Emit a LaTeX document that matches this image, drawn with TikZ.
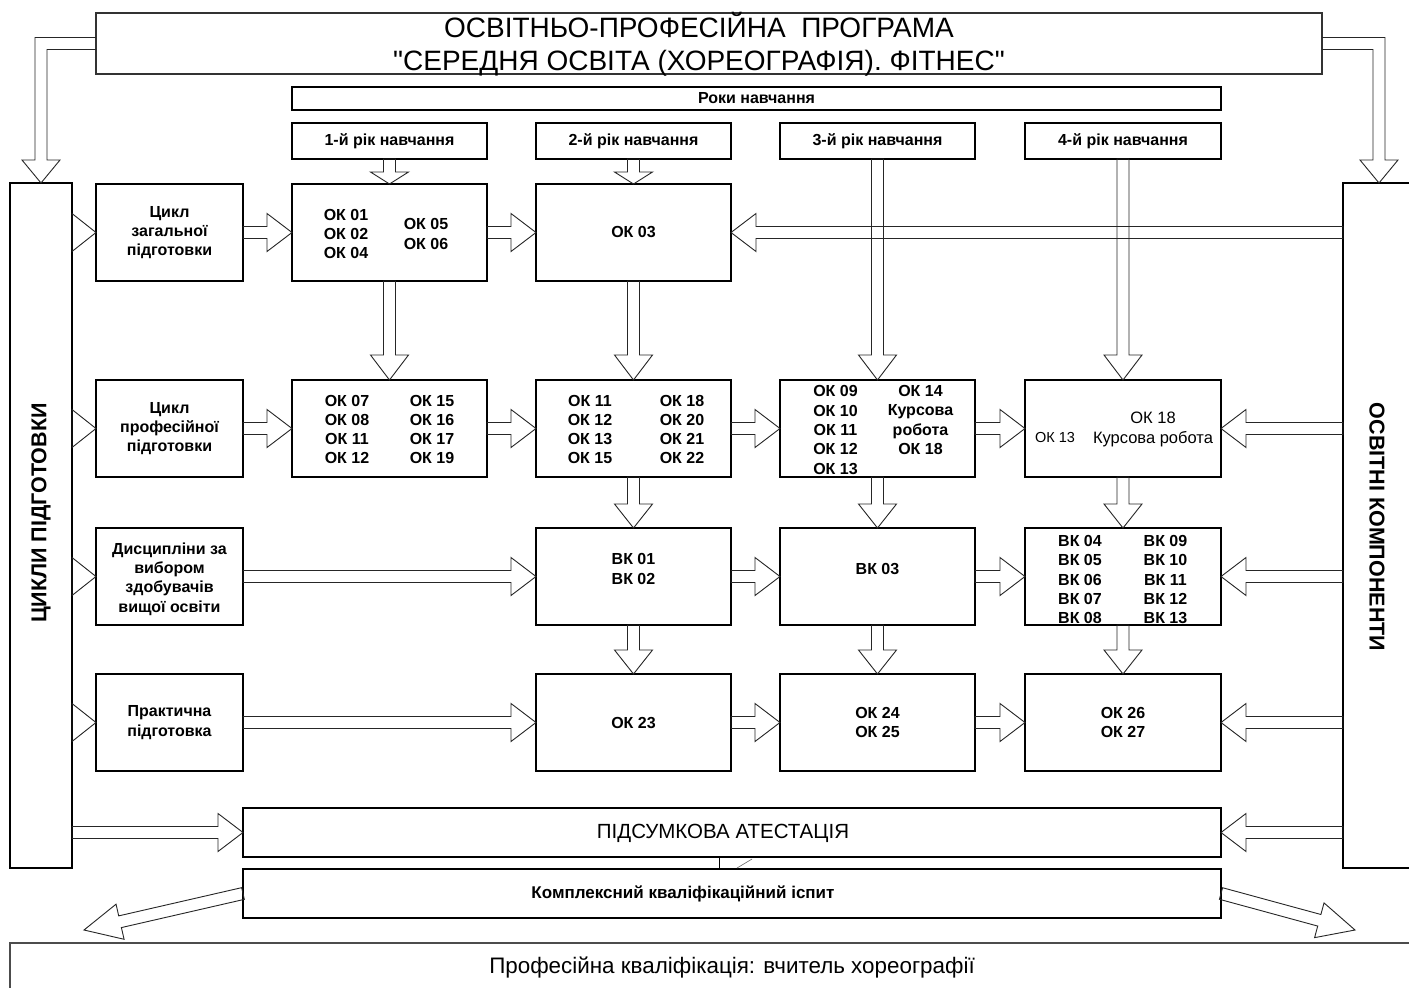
\documentclass[tikz,border=0pt]{standalone}
\usepackage{fontspec}
\setmainfont{Liberation Sans}
\usetikzlibrary{calc}
\newcommand{\sq}{\XeTeXglyph\XeTeXcharglyph"22\relax}
\tikzset{
  box/.style={draw=black, line width=1.1pt, inner sep=0pt, outer sep=0pt, align=center,
    font=\fontsize{16}{19.3}\selectfont\bfseries},
  txt/.style={inner sep=0pt, outer sep=0pt, align=center, font=\fontsize{16}{19.3}\selectfont\bfseries},
  txtreg/.style={inner sep=0pt, outer sep=0pt, align=center, font=\fontsize{16.5}{19.3}\selectfont},
  farrow/.style={draw=black!85, line width=0.9pt, line join=miter},
}
\newcommand{\bx}[7][]{\node[box,minimum width={#4-#2},minimum height={#5-#3},#1] (#6) at ({(#2+#4)/2},{(#3+#5)/2}) {#7};}
\newcommand{\farr}[4][19pt]{%
  \coordinate (fH) at ($(#3)!#4!(#2)$);
  \draw[farrow] ($(#2)!6pt!90:(#3)$) -- ($(fH)!6pt!90:(#3)$) -- ($(fH)!#1!90:(#3)$) -- (#3)
     -- ($(fH)!#1!-90:(#3)$) -- ($(fH)!6pt!-90:(#3)$) -- ($(#2)!6pt!-90:(#3)$) -- cycle;}
\newcommand{\farrhead}[2]{\draw[farrow] ($(#1)!19pt!90:(#2)$) -- (#2) -- ($(#1)!19pt!-90:(#2)$) -- cycle;}
\begin{document}
\begin{tikzpicture}[x=1pt,y=-1pt]
\useasboundingbox (0,0) rectangle (1409,988);
\fill[white] (0,0) rectangle (1409,988);
\clip (0,0) rectangle (1409,988);
% boxes
\bx[draw=black!80]{96}{13}{1322}{74}{title}{}
\node[inner sep=0pt, align=center, font=\fontsize{28}{33.5}\selectfont] (titletxt) at (699,44)
  {ОСВІТНЬО-ПРОФЕСІЙНА\ \ ПРОГРАМА\\\sq СЕРЕДНЯ ОСВІТА (ХОРЕОГРАФІЯ). ФІТНЕС\sq};
\bx{292}{87}{1221}{110}{roky}{Роки навчання}
\bx{292}{123}{487}{159}{y1}{1-й рік навчання}
\bx{536}{123}{731}{159}{y2}{2-й рік навчання}
\bx{780}{123}{975}{159}{y3}{3-й рік навчання}
\bx{1025}{123}{1221}{159}{y4}{4-й рік навчання}
\bx{10}{183}{72}{868}{lc}{}
\bx{1343}{183}{1415}{868}{rc}{}
\node[txt, rotate=90, font=\fontsize{21.5}{24}\selectfont\bfseries] (lctxt) at (41,513) {ЦИКЛИ ПІДГОТОВКИ};
\node[txt, rotate=-90, font=\fontsize{21.5}{24}\selectfont\bfseries] (rctxt) at (1377,527) {ОСВІТНІ КОМПОНЕНТИ};
\bx{96}{184}{243}{281}{c1}{Цикл\\загальної\\підготовки}
\bx{96}{380}{243}{477}{c2}{Цикл\\професійної\\підготовки}
\bx{96}{528}{243}{625}{c3}{}
\node[txt] (c3txt) at (169.5,579) {Дисципліни за\\вибором\\здобувачів\\вищої освіти};
\bx{96}{674}{243}{771}{c4}{Практична\\підготовка}
% row 1
\bx{292}{184}{487}{281}{r1c1}{}
\node[txt] (r1c1a) at (346,234) {ОК 01\\ОК 02\\ОК 04};
\node[txt] (r1c1b) at (426,234) {ОК 05\\ОК 06};
\bx{536}{184}{731}{281}{r1c2}{ОК 03}
% row 2
\bx{292}{380}{487}{477}{r2c1}{}
\node[txt] (r2c1a) at (347,429.5) {ОК 07\\ОК 08\\ОК 11\\ОК 12};
\node[txt] (r2c1b) at (432,429.5) {ОК 15\\ОК 16\\ОК 17\\ОК 19};
\bx{536}{380}{731}{477}{r2c2}{}
\node[txt] (r2c2a) at (590,429.5) {ОК 11\\ОК 12\\ОК 13\\ОК 15};
\node[txt] (r2c2b) at (682,429.5) {ОК 18\\ОК 20\\ОК 21\\ОК 22};
\bx{780}{380}{975}{477}{r2c3}{}
\node[txt] (r2c3a) at (835.5,430) {ОК 09\\ОК 10\\ОК 11\\ОК 12\\ОК 13};
\node[txt] (r2c3b) at (920.5,420) {ОК 14\\Курсова\\робота\\ОК 18};
\bx{1025}{380}{1221}{477}{r2c4}{}
\node[txtreg, font=\fontsize{14.5}{17}\selectfont] (r2c4a) at (1055,438) {ОК 13};
\node[txtreg] (r2c4b) at (1153,429.5) {ОК 18\\Курсова робота};
% row 3
\bx{536}{528}{731}{625}{r3c2}{}
\node[txt] (r3c2a) at (633.5,569) {ВК 01\\ВК 02};
\bx{780}{528}{975}{625}{r3c3}{}
\node[txt] (r3c3a) at (877.5,569) {ВК 03};
\bx{1025}{528}{1221}{625}{r3c4}{}
\node[txt] (r3c4a) at (1080,579.5) {ВК 04\\ВК 05\\ВК 06\\ВК 07\\ВК 08};
\node[txt] (r3c4b) at (1165.5,579.5) {ВК 09\\ВК 10\\ВК 11\\ВК 12\\ВК 13};
% row 4
\bx{536}{674}{731}{771}{r4c2}{ОК 23}
\bx{780}{674}{975}{771}{r4c3}{ОК 24\\ОК 25}
\bx{1025}{674}{1221}{771}{r4c4}{ОК 26\\ОК 27}
% bottom
\bx{243}{808}{1221}{857}{atest}{}
\node[txtreg, font=\fontsize{20.5}{24}\selectfont] (atesttxt) at (723,833) {ПІДСУМКОВА АТЕСТАЦІЯ};
\bx{243}{869}{1221}{918}{komp}{}
\node[txt, font=\fontsize{17}{20}\selectfont\bfseries] (komptxt) at (683,894) {Комплексний кваліфікаційний іспит};
\bx[draw=black!70, line width=1.6pt]{10}{943}{1455}{993}{prof}{}
\node[txtreg, font=\fontsize{22.4}{26}\selectfont] (proftxt) at (732,968) {Професійна кваліфікація: вчитель хореографії};
% title L-arrows
\coordinate (kL) at (lc.north |- title.west);
\draw[farrow] ($(title.west)+(0,-6)$) -- ($(kL)+(-6,-6)$) -- ($(lc.north)+(-6,-23)$) -- ($(lc.north)+(-19,-23)$)
  -- (lc.north) -- ($(lc.north)+(19,-23)$) -- ($(lc.north)+(6,-23)$) -- ($(kL)+(6,6)$) -- ($(title.west)+(0,6)$);
\coordinate (kR) at (rc.north |- title.east);
\draw[farrow] ($(title.east)+(0,-6)$) -- ($(kR)+(6,-6)$) -- ($(rc.north)+(6,-23)$) -- ($(rc.north)+(19,-23)$)
  -- (rc.north) -- ($(rc.north)+(-19,-23)$) -- ($(rc.north)+(-6,-23)$) -- ($(kR)+(-6,6)$) -- ($(title.east)+(0,6)$);
% years
\farr{y1.south}{r1c1.north}{12pt}
\farr{y2.south}{r1c2.north}{12pt}
\farr{y3.south}{r2c3.north}{25pt}
\farr{y4.south}{r2c4.north}{25pt}
% left column heads
\coordinate (lc1) at (lc.east |- c1.west);
\coordinate (lc2) at (lc.east |- c2.west);
\coordinate (lc3) at (lc.east |- c3.west);
\coordinate (lc4) at (lc.east |- c4.west);
\coordinate (lc5) at (lc.east |- atest.west);
\farrhead{lc1}{c1.west}
\farrhead{lc2}{c2.west}
\farrhead{lc3}{c3.west}
\farrhead{lc4}{c4.west}
\farr{lc5}{atest.west}{25pt}
% right column arrows
\coordinate (rc1) at (rc.west |- r1c2.east);
\coordinate (rc2) at (rc.west |- r2c4.east);
\coordinate (rc3) at (rc.west |- r3c4.east);
\coordinate (rc4) at (rc.west |- r4c4.east);
\coordinate (rc5) at (rc.west |- atest.east);
\farr{rc1}{r1c2.east}{25pt}
\farr{rc2}{r2c4.east}{25pt}
\farr{rc3}{r3c4.east}{25pt}
\farr{rc4}{r4c4.east}{25pt}
\farr{rc5}{atest.east}{25pt}
% row 1
\farr{c1.east}{r1c1.west}{25pt}
\farr{r1c1.east}{r1c2.west}{25pt}
\farr{r1c1.south}{r2c1.north}{25pt}
\farr{r1c2.south}{r2c2.north}{25pt}
% row 2
\farr{c2.east}{r2c1.west}{25pt}
\farr{r2c1.east}{r2c2.west}{25pt}
\farr{r2c2.east}{r2c3.west}{25pt}
\farr{r2c3.east}{r2c4.west}{25pt}
\farr{r2c2.south}{r3c2.north}{24pt}
\farr{r2c3.south}{r3c3.north}{24pt}
\farr{r2c4.south}{r3c4.north}{24pt}
% row 3
\farr{c3.east}{r3c2.west}{25pt}
\farr{r3c2.east}{r3c3.west}{25pt}
\farr{r3c3.east}{r3c4.west}{25pt}
\farr{r3c2.south}{r4c2.north}{24pt}
\farr{r3c3.south}{r4c3.north}{24pt}
\farr{r3c4.south}{r4c4.north}{24pt}
% row 4
\farr{c4.east}{r4c2.west}{25pt}
\farr{r4c2.east}{r4c3.west}{25pt}
\farr{r4c3.east}{r4c4.west}{25pt}
% bottom connectors
\coordinate (lx) at (719,862);
\draw[line width=0.8pt] (atest.south -| lx) -- (komp.north -| lx);
\draw[line width=0.6pt, black!60] (752,859) -- (737,868);
\coordinate (tipL) at (84,930);
\coordinate (tipR) at (1355,930);
\farr[18pt]{komp.west}{tipL}{37pt}
\farr[18pt]{komp.east}{tipR}{37pt}
\end{tikzpicture}
\end{document}
